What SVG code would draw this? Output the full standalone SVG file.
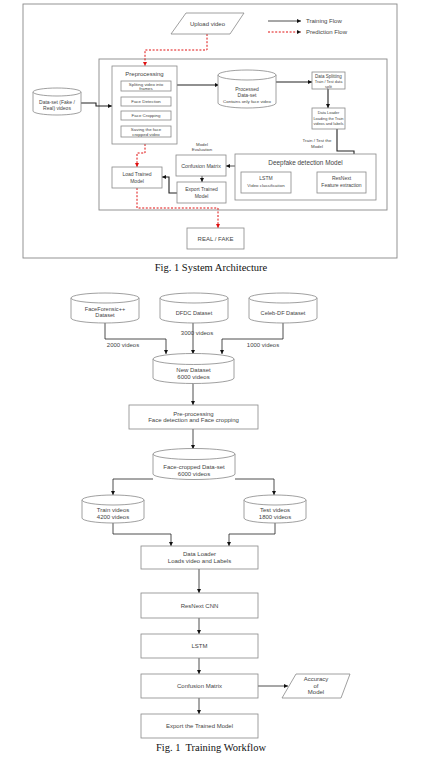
<svg xmlns="http://www.w3.org/2000/svg" width="443" height="765" viewBox="0 0 443 765">
<defs>
<marker id="ab" viewBox="0 0 10 10" refX="10" refY="5" markerWidth="4" markerHeight="4" markerUnits="userSpaceOnUse" orient="auto"><path d="M0,0 L10,5 L0,10 Z" fill="#111"/></marker>
<marker id="ar" viewBox="0 0 10 10" refX="10" refY="5" markerWidth="4.5" markerHeight="4.5" markerUnits="userSpaceOnUse" orient="auto"><path d="M0,0 L10,5 L0,10 Z" fill="#e01010"/></marker>
<style>
.bx{fill:#fff;stroke:#888;stroke-width:0.8}
.fr{fill:none;stroke:#888;stroke-width:0.9}
.ln{fill:none;stroke:#222;stroke-width:0.8}
.lt{fill:none;stroke:#222;stroke-width:1.1}
.rd{fill:none;stroke:#e01010;stroke-width:1;stroke-dasharray:2,1.6}
text{font-family:"Liberation Sans",Arial,sans-serif;fill:#444;text-anchor:middle}
.t4{font-size:4.4px}
.t3{font-size:3.9px}
.t5{font-size:5px}
.t6{font-size:6px}
.cap{font-family:"Liberation Serif","Times New Roman",serif;font-size:10.5px;fill:#111}
</style>
</defs>
<rect x="0" y="0" width="443" height="765" fill="#fff"/>

<!-- Frames -->
<g id="frames">
<rect class="fr" x="23" y="4" width="374" height="254"/>
<rect class="fr" x="99" y="59" width="288" height="151"/>
</g>

<!-- Legend -->
<g id="legend">
<line class="ln" x1="268" y1="21" x2="301" y2="21" marker-end="url(#ab)"/>
<text class="t6" x="306" y="23" style="text-anchor:start">Training Flow</text>
<line class="rd" x1="268" y1="32" x2="301" y2="32" marker-end="url(#ab)"/>
<text class="t6" x="306" y="34" style="text-anchor:start">Prediction Flow</text>
</g>

<!-- Connectors top -->
<g id="connectors-top">
<polyline class="rd" points="207,34 207,50 145,50 145,66" marker-end="url(#ar)"/>
<polyline class="lt" points="81,103 96,103 96,106 112,106" marker-end="url(#ab)"/>
<line class="lt" x1="177" y1="85" x2="219" y2="85" marker-end="url(#ab)"/>
<line class="ln" x1="146" y1="91" x2="146" y2="97" marker-end="url(#ab)"/>
<line class="ln" x1="146" y1="106" x2="146" y2="111" marker-end="url(#ab)"/>
<line class="ln" x1="146" y1="120" x2="146" y2="126" marker-end="url(#ab)"/>
<line class="lt" x1="276" y1="82" x2="312" y2="82" marker-end="url(#ab)"/>
<line class="lt" x1="328" y1="89" x2="328" y2="108" marker-end="url(#ab)"/>
<polyline class="lt" points="337,129 337,151 354,151 354,172" marker-end="url(#ab)"/>
<line class="ln" x1="317" y1="186" x2="291" y2="186" marker-end="url(#ab)"/>
<line class="ln" x1="235" y1="166" x2="226" y2="166" marker-end="url(#ab)"/>
<line class="ln" x1="202" y1="176" x2="202" y2="182" marker-end="url(#ab)"/>
<polyline class="lt" points="177,193 169,193 169,177 162,177" marker-end="url(#ab)"/>
<polyline class="rd" points="145,144 145,153 137,153 137,167" marker-end="url(#ar)"/>
<polyline class="rd" points="137,188 137,208 218,208 218,228" marker-end="url(#ar)"/>
<text class="t4" x="317" y="142">Train / Test the</text>
<text class="t4" x="317" y="148">Model</text>
<text class="t4" x="202" y="146">Model</text>
<text class="t4" x="202" y="151">Evaluation</text>
</g>

<!-- Nodes top -->
<g id="upload-video">
<polygon class="bx" points="186,13 244,13 230,34 171,34"/>
<text class="t6" x="207.5" y="25.5">Upload video</text>
</g>
<g id="dataset-fake-real">
<path class="bx" d="M33,92 a24,4 0 0 1 48,0 v19 a24,4 0 0 1 -48,0 z"/>
<path class="bx" d="M33,92 a24,4 0 0 0 48,0" fill="none"/>
<text class="t5" x="57" y="104">Data-set (Fake /</text>
<text class="t5" x="57" y="110">Real) videos</text>
</g>
<g id="preprocessing">
<rect class="bx" x="112" y="66" width="65" height="78"/>
<text class="t6" x="144.5" y="75.5">Preprocessing</text>
</g>
<g id="split-frames">
<rect class="bx" x="121" y="81" width="50" height="10"/>
<text class="t4" x="146" y="85.5">Spliting video into</text>
<text class="t4" x="146" y="90.3">frames</text>
</g>
<g id="face-detection">
<rect class="bx" x="121" y="97" width="50" height="9"/>
<text class="t4" x="146" y="103">Face Detection</text>
</g>
<g id="face-cropping">
<rect class="bx" x="121" y="111" width="50" height="9"/>
<text class="t4" x="146" y="117">Face Cropping</text>
</g>
<g id="saving-face">
<rect class="bx" x="121" y="126" width="50" height="11"/>
<text class="t4" x="146" y="130.8">Saving the face</text>
<text class="t4" x="146" y="135.6">cropped video</text>
</g>
<g id="processed-dataset">
<path class="bx" d="M218,75 a29,5 0 0 1 58,0 v28 a29,5 0 0 1 -58,0 z"/>
<path class="bx" d="M218,75 a29,5 0 0 0 58,0" fill="none"/>
<text class="t5" x="247" y="91">Processed</text>
<text class="t5" x="247" y="97">Data-set</text>
<text class="t4" x="247" y="103">Contains only face video</text>
</g>
<g id="data-splitting">
<rect class="bx" x="312" y="72" width="33" height="17"/>
<text style="font-size:4.5px" x="328.5" y="77.5">Data Splitting</text>
<text class="t3" x="328.5" y="82.8">Train / Test data</text>
<text class="t3" x="328.5" y="87.6">split</text>
</g>
<g id="data-loader-top">
<rect class="bx" x="312" y="108" width="33" height="21"/>
<text class="t3" x="328.5" y="114">Data Loader</text>
<text class="t3" x="328.5" y="119.5">Loading the Train</text>
<text class="t3" x="328.5" y="125">videos and labels</text>
</g>
<g id="deepfake-model">
<rect class="bx" x="235" y="154" width="141" height="46"/>
<text style="font-size:6.4px" x="305.5" y="165">Deepfake detection Model</text>
</g>
<g id="resnext-top">
<rect class="bx" x="317" y="172" width="49" height="21"/>
<text class="t5" x="341.5" y="180">ResNext</text>
<text class="t5" x="341.5" y="187">Feature extraction</text>
</g>
<g id="lstm-top">
<rect class="bx" x="241" y="172" width="50" height="21"/>
<text class="t5" x="266" y="180">LSTM</text>
<text class="t4" x="266" y="187">Video classification</text>
</g>
<g id="confusion-top">
<rect class="bx" x="176" y="155" width="50" height="21"/>
<text style="font-size:5.3px" x="201" y="167.5">Confusion Matrix</text>
</g>
<g id="export-top">
<rect class="bx" x="177" y="182" width="49" height="21"/>
<text class="t5" x="201.5" y="191">Export Trained</text>
<text class="t5" x="201.5" y="197.5">Model</text>
</g>
<g id="load-trained">
<rect class="bx" x="112" y="167" width="50" height="21"/>
<text class="t5" x="137" y="176">Load Trained</text>
<text class="t5" x="137" y="182.5">Model</text>
</g>
<g id="real-fake">
<rect class="bx" x="187" y="228" width="57" height="21"/>
<text class="t6" x="215.5" y="240.5">REAL / FAKE</text>
</g>

<text class="cap" x="211" y="271">Fig. 1 System Architecture</text>

<!-- Bottom diagram connectors -->
<g id="connectors-bottom">
<polyline class="ln" points="105,323 105,339 166,339 166,354" marker-end="url(#ab)"/>
<line class="ln" x1="193" y1="323" x2="193" y2="354" marker-end="url(#ab)"/>
<polyline class="ln" points="283,323 283,339 222,339 222,354" marker-end="url(#ab)"/>
<line class="ln" x1="193" y1="383" x2="193" y2="405" marker-end="url(#ab)"/>
<line class="ln" x1="193" y1="429" x2="193" y2="449" marker-end="url(#ab)"/>
<polyline class="ln" points="153,479 113,479 113,495" marker-end="url(#ab)"/>
<polyline class="ln" points="235,479 274,479 274,495" marker-end="url(#ab)"/>
<polyline class="ln" points="113,523 113,534 171,534 171,546" marker-end="url(#ab)"/>
<polyline class="ln" points="275,523 275,534 229,534 229,546" marker-end="url(#ab)"/>
<line class="ln" x1="199" y1="569" x2="199" y2="593" marker-end="url(#ab)"/>
<line class="ln" x1="199" y1="618" x2="199" y2="634" marker-end="url(#ab)"/>
<line class="ln" x1="199" y1="658" x2="199" y2="674" marker-end="url(#ab)"/>
<line class="ln" x1="199" y1="698" x2="199" y2="714" marker-end="url(#ab)"/>
<line class="ln" x1="258" y1="686" x2="288" y2="686" marker-end="url(#ab)"/>
<text class="t6" x="123" y="347">2000 videos</text>
<text class="t6" x="197" y="335">3000 videos</text>
<text class="t6" x="263" y="347">1000 videos</text>
</g>

<!-- Bottom nodes -->
<g id="faceforensic">
<path class="bx" d="M71,298 a34,5 0 0 1 68,0 v20 a34,5 0 0 1 -68,0 z"/>
<path class="bx" d="M71,298 a34,5 0 0 0 68,0" fill="none"/>
<text style="font-size:5.6px" x="105" y="311">FaceForensic++</text>
<text style="font-size:5.6px" x="105" y="317">Dataset</text>
</g>
<g id="dfdc">
<path class="bx" d="M160,298 a34,5 0 0 1 68,0 v20 a34,5 0 0 1 -68,0 z"/>
<path class="bx" d="M160,298 a34,5 0 0 0 68,0" fill="none"/>
<text style="font-size:5.6px" x="194" y="315">DFDC Dataset</text>
</g>
<g id="celeb-df">
<path class="bx" d="M249,298 a34,5 0 0 1 68,0 v20 a34,5 0 0 1 -68,0 z"/>
<path class="bx" d="M249,298 a34,5 0 0 0 68,0" fill="none"/>
<text style="font-size:5.6px" x="283" y="315">Celeb-DF Dataset</text>
</g>
<g id="new-dataset">
<path class="bx" d="M153,359 a40.5,5.5 0 0 1 81,0 v19 a40.5,5.5 0 0 1 -81,0 z"/>
<path class="bx" d="M153,359 a40.5,5.5 0 0 0 81,0" fill="none"/>
<text class="t6" x="193.5" y="372">New Dataset</text>
<text class="t6" x="193.5" y="378.5">6000 videos</text>
</g>
<g id="pre-processing">
<rect class="bx" x="129" y="405" width="129" height="24"/>
<text class="t6" x="193.5" y="415.5">Pre-processing</text>
<text class="t6" x="193.5" y="422">Face detection and Face cropping</text>
</g>
<g id="face-cropped">
<path class="bx" d="M153,454 a41,5.5 0 0 1 82,0 v20 a41,5.5 0 0 1 -82,0 z"/>
<path class="bx" d="M153,454 a41,5.5 0 0 0 82,0" fill="none"/>
<text class="t6" x="194" y="469">Face-cropped Data-set</text>
<text class="t6" x="194" y="475.5">6000 videos</text>
</g>
<g id="train-videos">
<path class="bx" d="M82,500 a31,5 0 0 1 62,0 v18 a31,5 0 0 1 -62,0 z"/>
<path class="bx" d="M82,500 a31,5 0 0 0 62,0" fill="none"/>
<text class="t6" x="113" y="512">Train videos</text>
<text class="t6" x="113" y="518.5">4200 videos</text>
</g>
<g id="test-videos">
<path class="bx" d="M244,500 a31,5 0 0 1 62,0 v18 a31,5 0 0 1 -62,0 z"/>
<path class="bx" d="M244,500 a31,5 0 0 0 62,0" fill="none"/>
<text class="t6" x="275" y="512">Test videos</text>
<text class="t6" x="275" y="518.5">1800 videos</text>
</g>
<g id="data-loader">
<rect class="bx" x="141" y="546" width="117" height="23"/>
<text class="t6" x="199.5" y="556">Data Loader</text>
<text class="t6" x="199.5" y="562.5">Loads video and Labels</text>
</g>
<g id="resnext-cnn">
<rect class="bx" x="141" y="593" width="117" height="25"/>
<text class="t6" x="199.5" y="607.5">ResNext CNN</text>
</g>
<g id="lstm">
<rect class="bx" x="141" y="634" width="117" height="24"/>
<text class="t6" x="199.5" y="648">LSTM</text>
</g>
<g id="confusion-matrix">
<rect class="bx" x="141" y="674" width="117" height="24"/>
<text class="t6" x="199.5" y="688">Confusion Matrix</text>
</g>
<g id="accuracy">
<polygon class="bx" points="296,674 350,674 341,698 282,698"/>
<text class="t6" x="316" y="681">Accuracy</text>
<text class="t6" x="316" y="687.5">of</text>
<text class="t6" x="316" y="694">Model</text>
</g>
<g id="export-model">
<rect class="bx" x="141" y="714" width="117" height="24"/>
<text class="t6" x="199.5" y="728">Export the Trained Model</text>
</g>

<text class="cap" x="211" y="751" xml:space="preserve">Fig. 1  Training Workflow</text>
</svg>
